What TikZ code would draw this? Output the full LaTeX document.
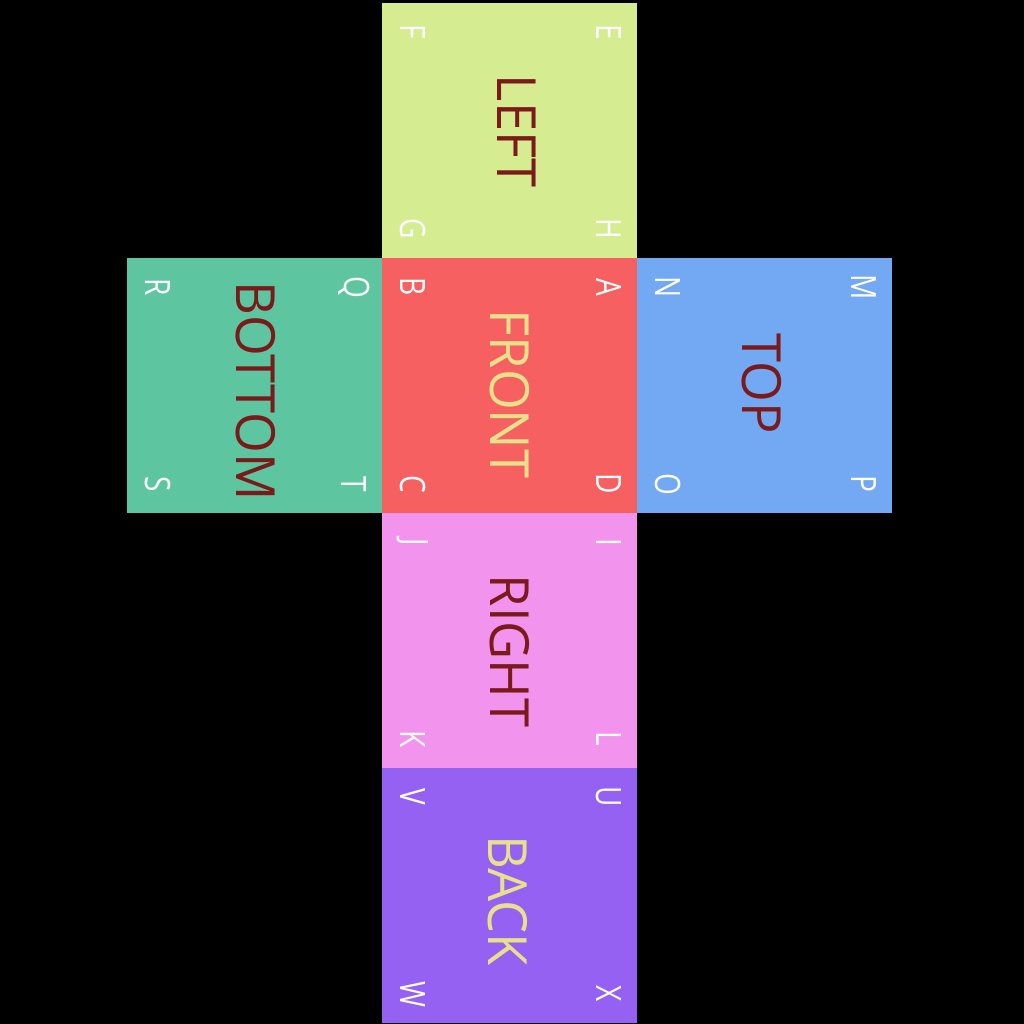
\documentclass[tikz,border=0pt]{standalone}
\usepackage{fontspec}
\setmainfont{Open Sans}
\usetikzlibrary{calc}
\definecolor{cLeft}{HTML}{D5EC91}
\definecolor{cBottom}{HTML}{5DC6A0}
\definecolor{cTop}{HTML}{72A9F2}
\definecolor{cFront}{HTML}{F66060}
\definecolor{cRight}{HTML}{F294EE}
\definecolor{cBack}{HTML}{9461F2}
\definecolor{darkLbl}{HTML}{7A1A1A}
\definecolor{lightLbl}{HTML}{E8E08A}
\tikzset{
  face/.style={draw=none, minimum width=255pt, minimum height=255pt, inner sep=0pt, outer sep=0pt, anchor=north west},
  facelabel/.style={rotate=-90, inner sep=0pt, font=\fontsize{54}{54}\selectfont, xscale=0.97},
  corner/.style={rotate=-90, inner sep=0pt, text=white, font=\fontsize{35}{35}\selectfont, xscale=0.8}
}
\newcommand{\cubeface}[8]{%
  \node[face, fill=#4] (#1) at (#2,#3) {};
  \node[corner] (#1tr) at ($(#1.north east)+(-28,29)$) {#5};
  \node[corner] (#1tl) at ($(#1.north west)+(31,29)$) {#6};
  \node[corner] (#1bl) at ($(#1.south west)+(31,-29)$) {#7};
  \node[corner] (#1br) at ($(#1.south east)+(-28,-29)$) {#8};
}
\begin{document}
\begin{tikzpicture}[x=1pt,y=-1pt]
\fill[black] (0,0) rectangle (1024,1024);
\useasboundingbox (0,0) rectangle (1024,1024);
\cubeface{left}{382}{3}{cLeft}{E}{F}{G}{H}
\cubeface{bottom}{127}{258}{cBottom}{Q}{R}{S}{T}
\cubeface{front}{382}{258}{cFront}{A}{B}{C}{D}
\cubeface{top}{637}{258}{cTop}{M}{N}{O}{P}
\cubeface{right}{382}{513}{cRight}{I}{J}{K}{L}
\cubeface{back}{382}{768}{cBack}{U}{V}{W}{X}
\node[facelabel, text=darkLbl] (leftlbl) at (517,131) {LEFT};
\node[facelabel, text=darkLbl] (bottomlbl) at (256,391) {BOTTOM};
\node[facelabel, text=lightLbl] (frontlbl) at (510,394) {FRONT};
\node[facelabel, text=darkLbl] (toplbl) at (762,384) {TOP};
\node[facelabel, text=darkLbl] (rightlbl) at (510,651) {RIGHT};
\node[facelabel, text=lightLbl] (backlbl) at (508,901) {BACK};
\end{tikzpicture}
\end{document}
